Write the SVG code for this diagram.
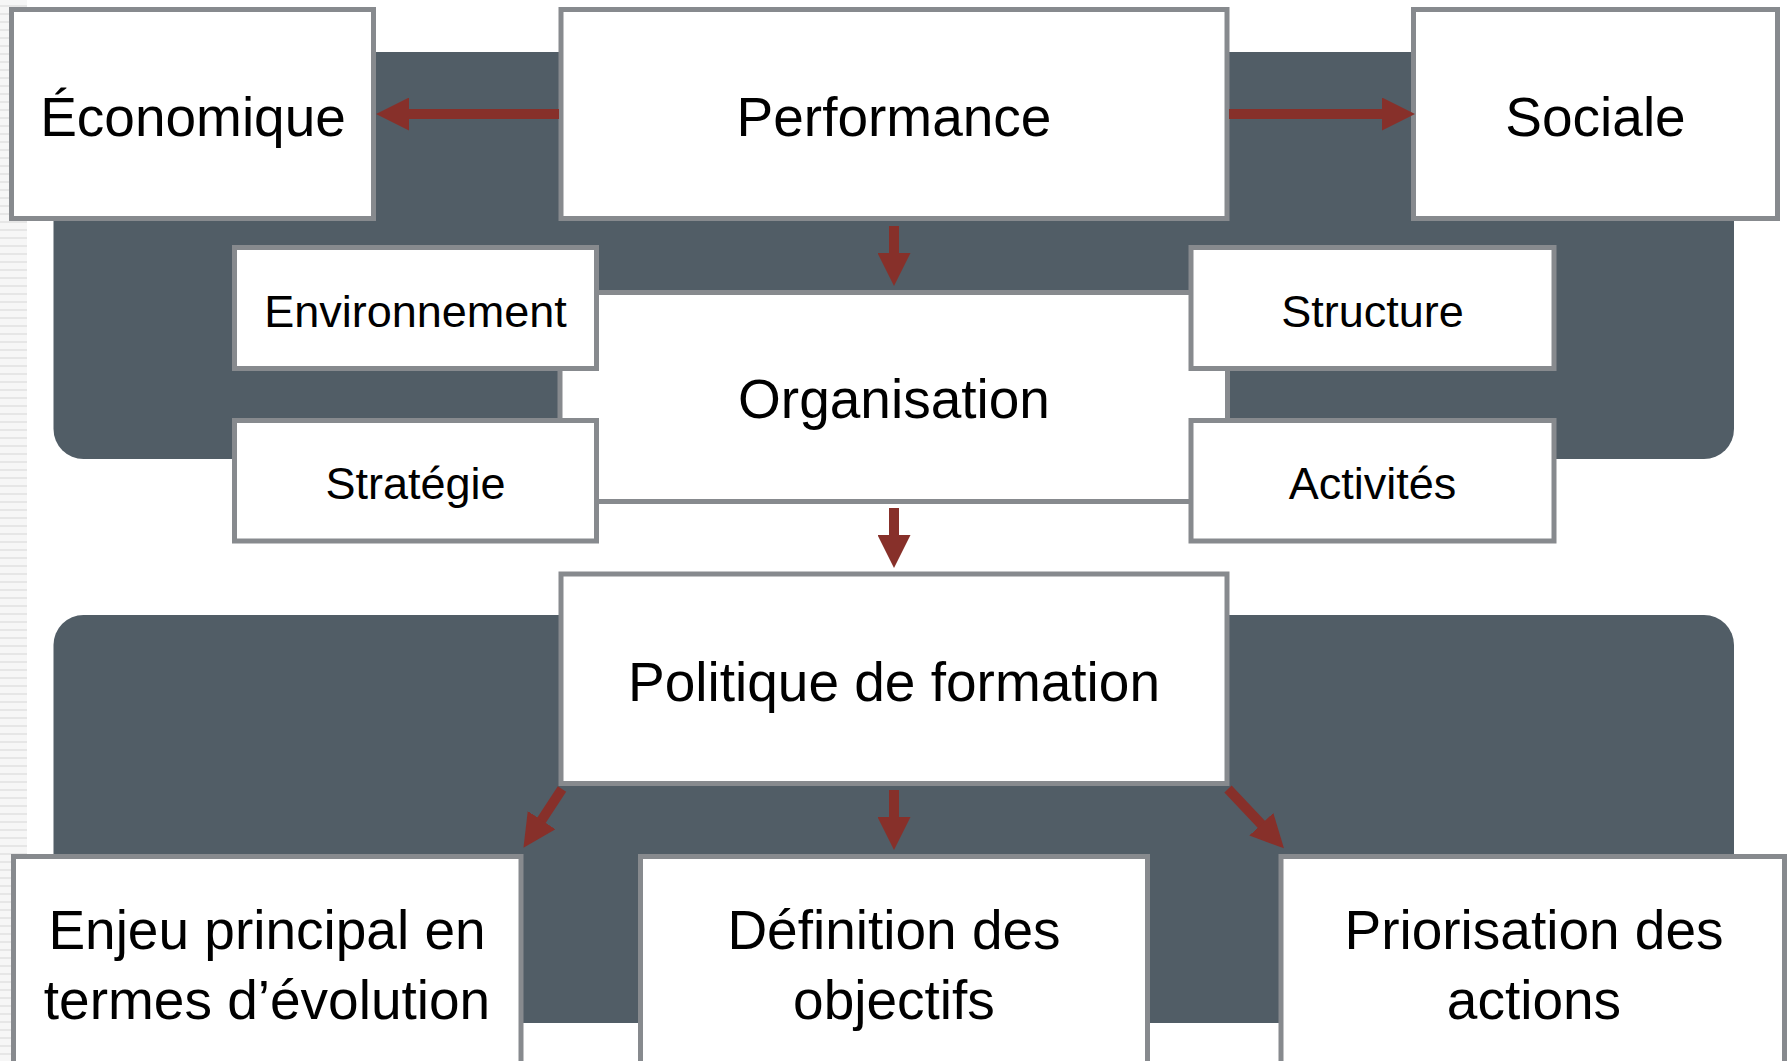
<svg xmlns="http://www.w3.org/2000/svg" width="1789" height="1061" viewBox="0 0 1789 1061">
  <style>
    .panel { fill: #515d66; }
    .box { fill: #ffffff; stroke: #878a8e; stroke-width: 5; }
    .big { font-family: "Liberation Sans", Arial, sans-serif; font-size: 55px; fill: #000000; text-anchor: middle; }
    .small { font-family: "Liberation Sans", Arial, sans-serif; font-size: 45px; fill: #000000; text-anchor: middle; }
    .link { stroke: #87302a; stroke-width: 10; fill: none; marker-end: url(#head); }
  </style>
  <defs>
    <marker id="head" markerUnits="userSpaceOnUse" markerWidth="33" markerHeight="33" viewBox="0 0 32 32" refX="1" refY="16" orient="auto">
      <path d="M0,0 L32,16 L0,32 Z" fill="#87302a"/>
    </marker>
    <pattern id="stripes" width="27" height="8" patternUnits="userSpaceOnUse">
      <rect width="27" height="8" fill="#f6f6f6"/>
      <rect y="5" width="27" height="2" fill="#e6e6e6"/>
    </pattern>
  </defs>

  <rect width="1789" height="1061" fill="#ffffff"/>
  <!-- faint ruled margin on the left edge -->
  <rect x="0" y="0" width="27" height="1061" fill="url(#stripes)"/>

  <!-- dark backing panels -->
  <rect class="panel" x="53.5" y="52" width="1680.5" height="407" rx="30"/>
  <rect class="panel" x="53.5" y="615" width="1680.5" height="408" rx="30"/>

  <!-- top row -->
  <g id="node-economique">
    <rect class="box" x="11.5" y="9.5" width="362" height="209"/>
    <text class="big" x="193" y="136">Économique</text>
  </g>
  <g id="node-performance">
    <rect class="box" x="561" y="9.5" width="666" height="209"/>
    <text class="big" x="894" y="136">Performance</text>
  </g>
  <g id="node-sociale">
    <rect class="box" x="1413.5" y="9.5" width="364" height="209"/>
    <text class="big" x="1595.5" y="136">Sociale</text>
  </g>

  <!-- organisation and its four facets -->
  <g id="node-organisation">
    <rect class="box" x="560" y="292.5" width="667.5" height="209"/>
    <text class="big" x="894" y="418">Organisation</text>
  </g>
  <g id="node-environnement">
    <rect class="box" x="234.5" y="247.5" width="362" height="121"/>
    <text class="small" x="415.5" y="327">Environnement</text>
  </g>
  <g id="node-strategie">
    <rect class="box" x="234.5" y="420.5" width="362" height="120.5"/>
    <text class="small" x="415.5" y="499">Stratégie</text>
  </g>
  <g id="node-structure">
    <rect class="box" x="1191" y="247.5" width="363" height="121"/>
    <text class="small" x="1372.5" y="327">Structure</text>
  </g>
  <g id="node-activites">
    <rect class="box" x="1191" y="420.5" width="363" height="120.5"/>
    <text class="small" x="1372.5" y="499">Activités</text>
  </g>

  <!-- training policy -->
  <g id="node-politique">
    <rect class="box" x="561" y="574" width="666" height="209.5"/>
    <text class="big" x="894" y="701">Politique de formation</text>
  </g>

  <!-- bottom row -->
  <g id="node-enjeu">
    <rect class="box" x="13.5" y="856.5" width="507.5" height="260"/>
    <text class="big" x="267" y="949">Enjeu principal en</text>
    <text class="big" x="267" y="1019">termes d’évolution</text>
  </g>
  <g id="node-definition">
    <rect class="box" x="640.5" y="856.5" width="507" height="260"/>
    <text class="big" x="894" y="949">Définition des</text>
    <text class="big" x="894" y="1019">objectifs</text>
  </g>
  <g id="node-priorisation">
    <rect class="box" x="1281" y="856.5" width="503.5" height="260"/>
    <text class="big" x="1534" y="949">Priorisation des</text>
    <text class="big" x="1534" y="1019">actions</text>
  </g>

  <!-- connectors -->
  <g id="connectors">
    <line class="link" x1="559" y1="114" x2="408" y2="114"/>
    <line class="link" x1="1229" y1="114" x2="1383" y2="114"/>
    <line class="link" x1="894" y1="226" x2="894" y2="254"/>
    <line class="link" x1="894" y1="508" x2="894" y2="536"/>
    <line class="link" x1="894" y1="790" x2="894" y2="818"/>
    <line class="link" x1="562" y1="789" x2="541" y2="821"/>
    <line class="link" x1="1228" y1="789" x2="1262" y2="825"/>
  </g>
</svg>
